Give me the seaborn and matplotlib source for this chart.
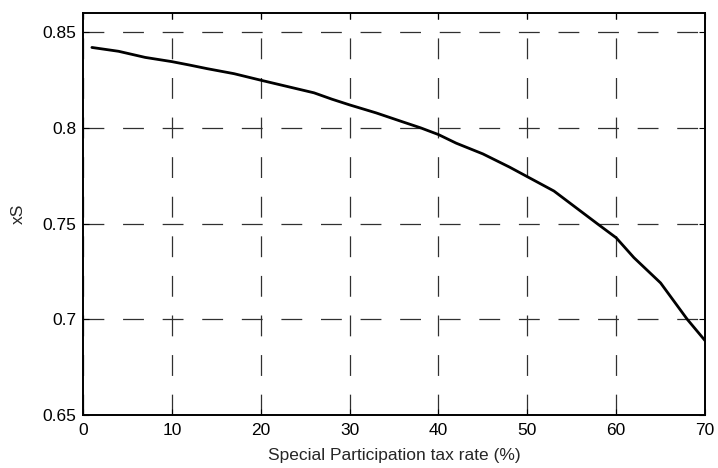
import matplotlib
matplotlib.use("Agg")
import matplotlib.pyplot as plt
import seaborn as sns
import pandas as pd

# Data
tax_rate = [1, 4, 7, 10, 12, 14, 17, 20, 23, 26, 28, 30, 33, 36, 38, 40,
            42, 45, 48, 50, 53, 55, 58, 60, 62, 65, 68, 70]
xs_values = [0.8420, 0.8400, 0.8368, 0.8346, 0.8328, 0.8309, 0.8283, 0.8249,
             0.8216, 0.8183, 0.8150, 0.8120, 0.8078, 0.8031, 0.8000, 0.7965,
             0.7920, 0.7864, 0.7795, 0.7745, 0.7670, 0.7600, 0.7495, 0.7426,
             0.7322, 0.7190, 0.7000, 0.6889]
x_ticks = [0, 10, 20, 30, 40, 50, 60, 70]
y_ticks = [0.65, 0.7, 0.75, 0.8, 0.85]
y_tick_labels = ["0.65", "0.7", "0.75", "0.8", "0.85"]

sns.set_style("white")
plt.rcParams['font.family'] = ['Liberation Sans', 'DejaVu Sans']
plt.rcParams['lines.scale_dashes'] = False

df = pd.DataFrame({"rate": tax_rate, "xS": xs_values})

fig = plt.figure(figsize=(7.18, 4.68), dpi=100)
ax = fig.add_axes([83/718, 1 - 415/468, (705-83)/718, (415-13)/468])

sns.lineplot(data=df, x="rate", y="xS", ax=ax, color="black", linewidth=2.0)

ax.set_xlim(0, 70)
ax.set_ylim(0.65, 0.86)
ax.set_xticks(x_ticks)
ax.set_xticklabels([str(t) for t in x_ticks])
ax.set_yticks(y_ticks)
ax.set_yticklabels(y_tick_labels)

ax.grid(True, color="#303030", linewidth=0.9, linestyle=(0, (15, 13.5)))
for s in ax.spines.values():
    s.set_visible(True)
    s.set_color("black")
    s.set_linewidth(1.4)

ax.tick_params(axis="both", direction="in", length=4, width=0.8, color="black",
               labelsize=12.5, labelcolor="black", top=True, right=True,
               bottom=True, left=True)
ax.tick_params(axis="y", pad=5)
ax.tick_params(axis="x", pad=6)

ax.set_xlabel("Special Participation tax rate (%)", fontsize=12.5, labelpad=7)
ax.set_ylabel("xS", fontsize=12.5, labelpad=12)

fig.savefig("out.png", dpi=100)
